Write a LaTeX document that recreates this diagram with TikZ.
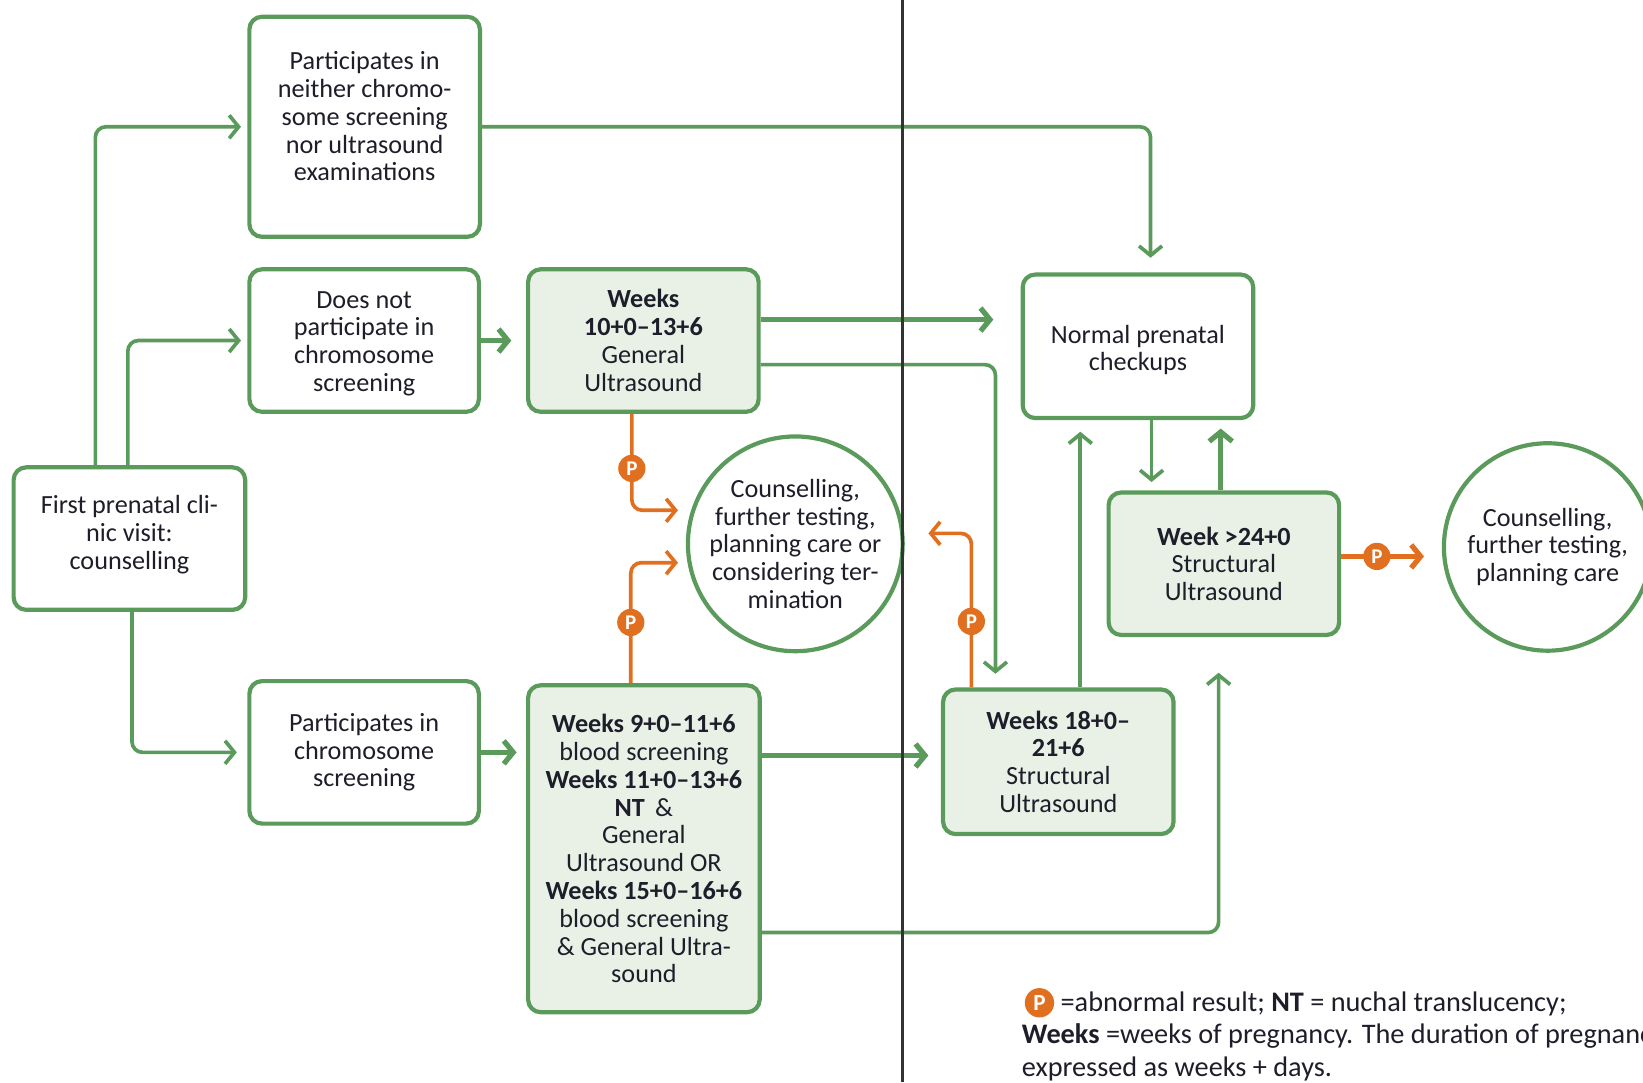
\documentclass[tikz,border=0pt]{standalone}
\usepackage{fontspec}
\setmainfont{Carlito}
\usetikzlibrary{arrows.meta}
\definecolor{gr}{HTML}{5A9A5A}
\definecolor{orn}{HTML}{E07020}
\definecolor{lfill}{HTML}{E9F1E7}
\definecolor{txtc}{HTML}{1E1E2A}
\definecolor{vlinec}{HTML}{333333}
\tikzset{
  txt/.style={inner sep=0pt, align=center, text=txtc, font=\fontsize{25}{26.5}\selectfont},
  ltxt/.style={inner sep=0pt, align=left, text=txtc, font=\fontsize{27}{31}\selectfont},
  box/.style={txt, draw=gr, line width=4pt, rounded corners=12pt, fill=white},
  fbox/.style={box, fill=lfill},
  circ/.style={txt, circle, draw=gr, line width=4pt, minimum size=198pt, fill=white},
  tip/.style={-{Straight Barb[length=9pt,width=22pt]}},
  conn/.style={draw=gr, line width=3.5pt, rounded corners=10pt, tip},
  tconn/.style={conn, line width=5pt},
  oconn/.style={draw=orn, line width=3.5pt, rounded corners=10pt, tip},
  toconn/.style={oconn, line width=5pt},
  pmark/.style={circle, fill=orn, text=white, inner sep=0pt, minimum size=26pt, font=\bfseries\fontsize{20}{20}\selectfont},
}
\begin{document}
\begin{tikzpicture}[x=1pt,y=-1pt]
\useasboundingbox (0,0) rectangle (1568,1033);
\clip (0,0) rectangle (1568,1033);

% nodes
\node[box, minimum width=220pt, minimum height=210pt] (A) at (348,121) {};
\node[txt] (At) at (348,111) {Participates in\\neither chromo-\\some screening\\nor ultrasound\\examinations};
\node[box, minimum width=219pt, minimum height=136pt] (B) at (347.5,325) {};
\node[txt] (Bt) at (347.5,328) {Does not\\participate in\\chromosome\\screening};
\node[fbox, minimum width=220pt, minimum height=136pt] (C) at (614,325) {\textbf{Weeks}\\\textbf{10+0–13+6}\\General\\Ultrasound};
\node[box, minimum width=221pt, minimum height=136pt] (D) at (123.5,514) {};
\node[txt] (Dt) at (123.5,510) {First prenatal cli-\\nic visit:\\counselling};
\node[box, minimum width=219pt, minimum height=136pt] (E) at (347.5,718) {Participates in\\chromosome\\screening};
\node[fbox, minimum width=221pt, minimum height=312pt] (F) at (614.5,810) {\textbf{Weeks 9+0–11+6}\\blood screening\\\textbf{Weeks 11+0–13+6}\\\textbf{NT} \,\&\\General\\Ultrasound OR\\\textbf{Weeks 15+0–16+6}\\blood screening\\\& General Ultra-\\sound};
\node[circ] (G) at (759,519) {Counselling,\\further testing,\\planning care or\\considering ter-\\mination};
\node[box, minimum width=220pt, minimum height=137pt] (H) at (1086,330.5) {};
\node[txt] (Ht) at (1086,334) {Normal prenatal\\checkups};
\node[fbox, minimum width=220pt, minimum height=136pt] (I) at (1168,538) {\textbf{Week >24+0}\\Structural\\Ultrasound};
\node[circ] (J) at (1477,522) {Counselling,\\further testing,\\planning care};
\node[fbox, minimum width=220pt, minimum height=138pt] (K) at (1010,727) {\textbf{Weeks 18+0–}\\\textbf{21+6}\\Structural\\Ultrasound};

% green connectors
\coordinate (dA) at ([xshift=-32.5pt]D.north);
\draw[conn, shorten >=6pt] (dA) |- (A.west);
\coordinate (dB) at ([xshift=-1.5pt]D.north);
\draw[conn, shorten >=6pt] (dB) |- (B.west);
\coordinate (dE) at ([xshift=2.5pt]D.south);
\draw[conn, shorten >=10pt] (dE) |- (E.west);
\draw[tconn, shorten >=14pt] (B.east) -- (C.west);
\draw[tconn, shorten >=9pt] (E.east) -- (E.east -| F.west);
\coordinate (hA) at ([xshift=12pt]H.north);
\draw[conn, shorten >=14pt] (A.east) -| (hA);
\coordinate (cH) at ([yshift=20pt]C.east);
\draw[tconn, shorten >=26pt] (cH) -- (cH -| H.west);
\coordinate (cK) at ([yshift=-23pt]C.east);
\coordinate (kC) at ([xshift=-60pt]K.north);
\draw[conn, shorten >=13pt] (cK) -| (kC);
\coordinate (fK) at ([yshift=89pt]F.east);
\draw[tconn, shorten >=12pt] (fK) -- (fK -| K.west);
\coordinate (fI) at ([yshift=-80pt]F.east);
\coordinate (iF) at ([xshift=-5pt]I.south);
\draw[conn, shorten >=34pt] (fI) -| (iF);
\coordinate (hI) at ([xshift=13pt]H.south);
\draw[conn, shorten >=8pt] (hI) -- (hI |- I.north);
\coordinate (iH) at ([xshift=-3pt]I.north);
\draw[tconn, shorten >=8pt] (iH) -- (iH |- H.south);
\coordinate (kH) at ([xshift=21pt]K.north);
\draw[conn, shorten >=11pt] (kH) -- (kH |- H.south);

% orange connectors
\coordinate (cG) at ([xshift=-11pt]C.south);
\coordinate (gC) at (647,487);
\draw[oconn] (cG) |- (gC);
\node[pmark] (p1) at (603,447) {P};
\coordinate (fG) at ([xshift=-12.5pt]F.north);
\coordinate (gF) at (647,537);
\draw[oconn] (fG) |- (gF);
\node[pmark] (p2) at (602,594) {P};
\coordinate (kG) at ([xshift=-83pt]K.north);
\coordinate (gK) at (886,509);
\draw[oconn] (kG) |- (gK);
\node[pmark] (p3) at (927,593) {P};
\coordinate (iJ) at ([yshift=7pt]I.east);
\draw[toconn, shorten >=17pt] (iJ) -- (iJ -| J.west);
\node[pmark] (p4) at (1314,531) {P};

% separator
\coordinate (vt) at (861,0);
\coordinate (vb) at (861,1033);
\draw[vlinec, line width=2.5pt] (vt) -- (vb);

% legend
\node[pmark, minimum size=28pt, font=\bfseries\fontsize{22}{22}\selectfont] (pl) at (992,957) {P};
\node[ltxt, anchor=west] (l1) at (1012,958) {=abnormal result; \textbf{NT} = nuchal translucency;};
\node[ltxt, anchor=west] (l2) at (975,989) {\textbf{Weeks} =weeks of pregnancy. The duration of pregnancy};
\node[ltxt, anchor=west] (l3) at (975,1020) {expressed as weeks + days.};
\end{tikzpicture}
\end{document}
